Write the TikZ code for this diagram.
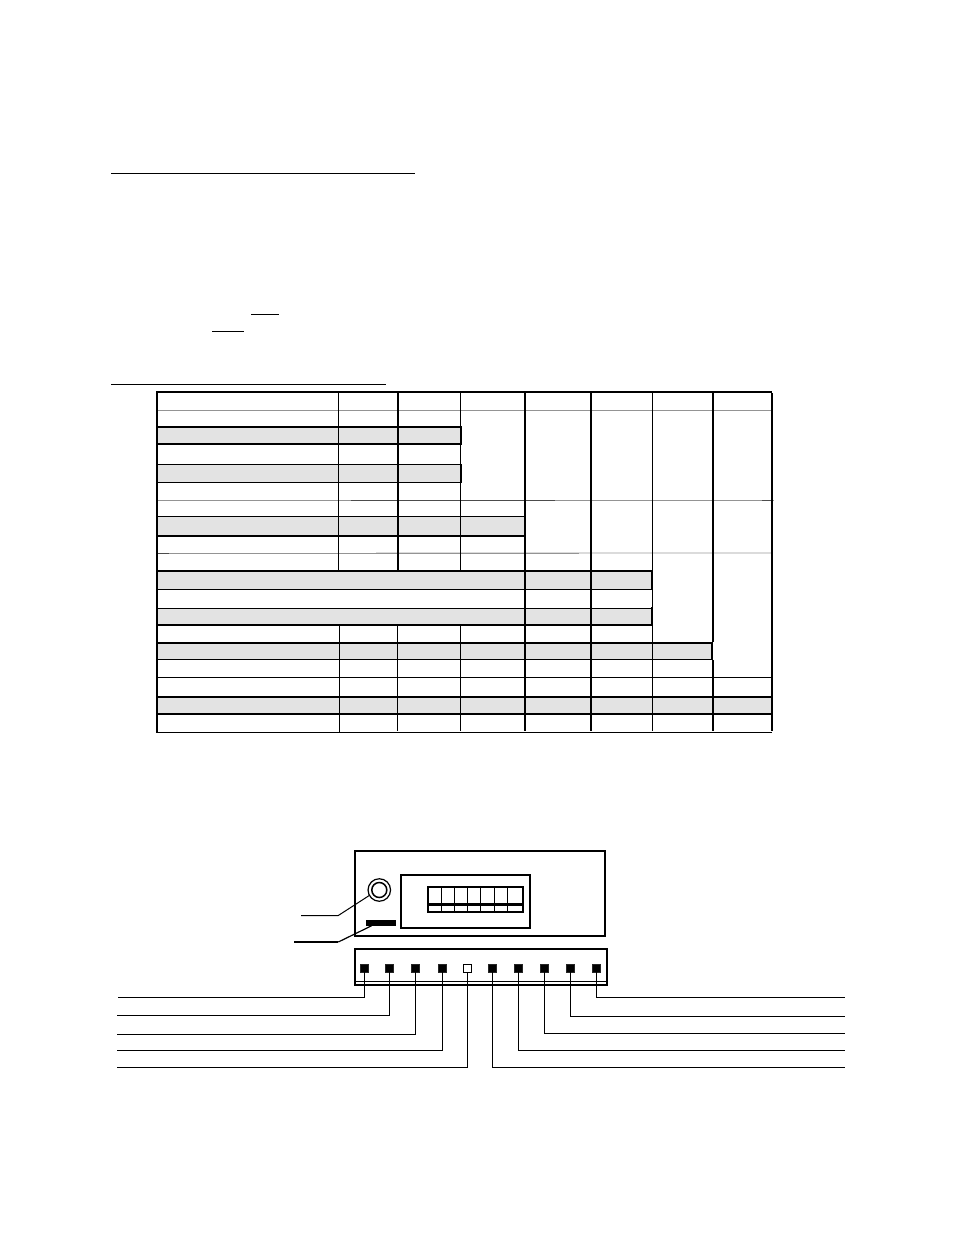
\documentclass[tikz,border=0pt]{standalone}
\tikzset{
  x=1pt,y=-1pt,
  thick line/.style={line width=2pt,line cap=rect},
  thin line/.style={line width=1pt},
  grey line/.style={line width=1pt,draw=black!42},
  dark line/.style={line width=1pt,draw=black!70},
  pale line/.style={line width=1.5pt,draw=black!14},
  shade row/.style={fill=black!11,draw=none},
  box line/.style={line width=2pt},
  rule line/.style={line width=1pt},
  wire/.style={line width=1pt},
  term/.style={draw=black!85,fill=black,line width=0.5pt,minimum size=8pt,inner sep=0pt,outer sep=0pt,rectangle},
  openterm/.style={draw=black,fill=white,line width=1pt,minimum size=8pt,inner sep=0pt,outer sep=0pt,rectangle},
}
\begin{document}
\begin{tikzpicture}
\useasboundingbox[fill=white] (0,0) rectangle (954,1235);

% heading rules
\draw[rule line] (111,173.5) -- (415,173.5);
\draw[rule line] (111,384.5) -- (386,384.5);
\draw[rule line] (251,314.5) -- (279,314.5);
\draw[rule line] (212,331.5) -- (244,331.5);

% table shading
\fill[shade row] (157,427) rectangle (461,444);
\fill[shade row] (157,464) rectangle (461,482);
\fill[shade row] (157,516) rectangle (525,536);
\fill[shade row] (157,571) rectangle (652,589);
\fill[shade row] (157,608) rectangle (652,625);
\fill[shade row] (157,643) rectangle (712,659);
\fill[shade row] (157,697) rectangle (772,714);

% faint rules
\draw[grey line] (157,410.5) -- (771,410.5);
\draw[grey line] (157,500.5) -- (774,500.5);
\draw[dark line] (351,500.5) -- (555,500.5);
\draw[dark line] (762,500.5) -- (771,500.5);
\draw[pale line] (376,553) -- (771,553);
\draw[grey line] (157,553.5) -- (579,553.5);
\draw[dark line] (157,553.5) -- (169,553.5);

% table rows
\draw[thick line] (157,392) -- (771,392);
\draw[thick line] (157,427) -- (461,427);
\draw[thick line] (157,444) -- (461,444);
\draw[thin line] (157,464.5) -- (461,464.5);
\draw[thin line] (157,482.5) -- (461,482.5);
\draw[thin line] (157,516.5) -- (525,516.5);
\draw[thick line] (157,536) -- (525,536);
\draw[thick line] (157,571) -- (652,571);
\draw[thin line] (157,589.5) -- (652,589.5);
\draw[thin line] (157,608.5) -- (652,608.5);
\draw[thick line] (157,625) -- (652,625);
\draw[thick line] (157,643) -- (711,643);
\draw[thin line] (157,659.5) -- (712,659.5);
\draw[thin line] (157,677.5) -- (772,677.5);
\draw[thick line] (157,697) -- (772,697);
\draw[thick line] (157,714) -- (772,714);
\draw[thin line] (157,732.5) -- (772,732.5);

% table columns
\draw[thick line] (157,392) -- (157,732);
\draw[thin line] (338.5,392) -- (338.5,571);
\draw[thin line] (339.5,625) -- (339.5,732);
\draw[thick line] (398,392) -- (398,570);
\draw[thin line] (397.5,625) -- (397.5,731);
\draw[thin line] (460.5,392) -- (460.5,571);
\draw[thin line] (460.5,625) -- (460.5,731);
\draw[thick line] (461,427) -- (461,444);
\draw[thick line] (461,465) -- (461,482);
\draw[line width=2pt] (525,392) -- (525,731);
\draw[line width=2pt] (591,392) -- (591,731);
\draw[thin line] (652.5,392) -- (652.5,731);
\draw[thick line] (652,571) -- (652,589);
\draw[thick line] (652,608) -- (652,625);
\draw[line width=2pt] (713,392) -- (713,642);
\draw[thick line] (712,643) -- (712,659);
\draw[line width=2pt] (713,660) -- (713,731);
\draw[line width=2pt] (772,393) -- (772,731);

% device: upper housing
\draw[box line] (355,851) rectangle (605,936);
\draw[box line] (401,875) rectangle (530,928);
\draw[line width=2pt] (428,887) rectangle (523,912);
\fill (428,903) rectangle (523,906);
\foreach \dx in {441.5,454.5,467.5,480.5,494.5,507.5}
  \draw[line width=1pt] (\dx,887) -- (\dx,912);

% adjustment knob and indicator
\node[circle,draw,line width=1.2pt,minimum size=22.5pt,inner sep=0pt] (knobouter) at (379.3,890) {};
\node[circle,draw,line width=1.5pt,minimum size=15pt,inner sep=0pt] (knobinner) at (379.3,890) {};
\node[fill=black,minimum width=30pt,minimum height=6pt,inner sep=0pt] (bar) at (381,923) {};
\coordinate (knobend) at (301,915.5);
\coordinate (barend) at (294,942);
\draw[line width=1pt] (knobend) -- (338.3,915.5) -- (370,895);
\draw[line width=2pt] (barend) -- (338.3,942);
\draw[line width=1.2pt] (338.3,942) -- (371.7,925.7);

% terminal strip
\draw[box line] (355,949) rectangle (607,985);
\draw[line width=1pt] (355,981.5) -- (607,981.5);
\node[term] (t1) at (364.5,968) {};
\node[term] (t2) at (389.5,968) {};
\node[term] (t3) at (415.5,968) {};
\node[term] (t4) at (442.5,968) {};
\node[openterm] (t5) at (467.5,968) {};
\node[term] (t6) at (492.5,968) {};
\node[term] (t7) at (518.5,968) {};
\node[term] (t8) at (544.5,968) {};
\node[term] (t9) at (570.5,968) {};
\node[term] (t10) at (596.5,968) {};

% wires
\coordinate (w1) at (118,997.5);
\coordinate (w2) at (117,1015.5);
\coordinate (w3) at (117,1034.5);
\coordinate (w4) at (117,1050.5);
\coordinate (w5) at (117,1067.5);
\coordinate (w6) at (845,1067.5);
\coordinate (w7) at (845,1050.5);
\coordinate (w8) at (845,1033.5);
\coordinate (w9) at (845,1016.5);
\coordinate (w10) at (845,997.5);
\foreach \n in {1,2,3,4,6,7,8,9,10}
  \draw[wire] (t\n.center) |- (w\n);
\draw[wire] (t5.south) |- (w5);
\end{tikzpicture}
\end{document}
